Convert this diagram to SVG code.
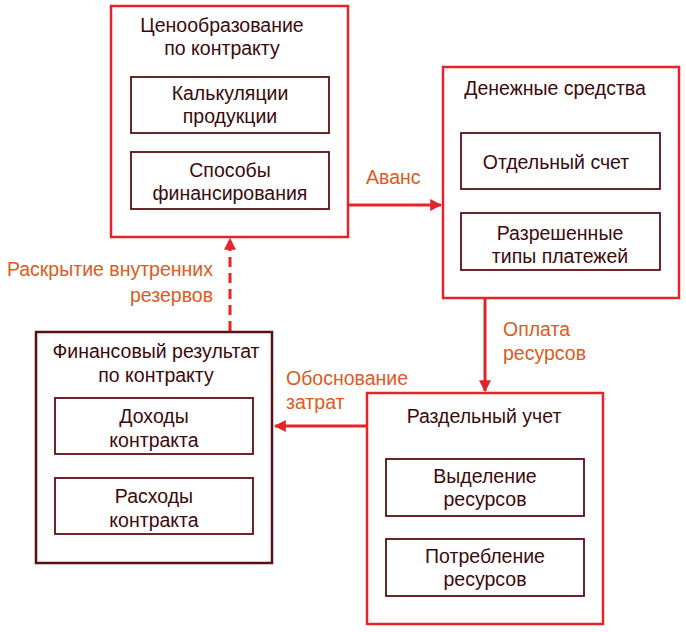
<svg xmlns="http://www.w3.org/2000/svg" width="686" height="632" viewBox="0 0 686 632">
<style>
.outer{fill:#fff;stroke:#e3242b;stroke-width:2.5}
.outer2{fill:#fff;stroke:#5a0f12;stroke-width:2.5}
.inner{fill:#fff;stroke:#5a0f12;stroke-width:1.8}
.t{font-family:"Liberation Sans",Arial,sans-serif;font-size:19.5px;fill:#3d0a0c;text-anchor:middle}
.lbl{font-family:"Liberation Sans",Arial,sans-serif;font-size:19.5px;fill:#de5a22}
.c{stroke:#e3242b;stroke-width:3;fill:none}
</style>
<defs>
<marker id="ah" viewBox="0 0 10 10" refX="9" refY="5" markerWidth="4" markerHeight="4" orient="auto" markerUnits="strokeWidth">
<path d="M0,0 L10,5 L0,10 Z" fill="#e3242b"/>
</marker>
</defs>
<rect width="686" height="632" fill="#fff"/>
<g id="connectors">
<line class="c" x1="349" y1="205" x2="441" y2="205" marker-end="url(#ah)"/>
<line class="c" x1="485" y1="299" x2="485" y2="391" marker-end="url(#ah)"/>
<line class="c" x1="366" y1="426" x2="275" y2="426" marker-end="url(#ah)"/>
<line class="c" x1="230" y1="331" x2="230" y2="239" stroke-dasharray="10,6" marker-end="url(#ah)"/>
<text class="lbl" x="366" y="184">Аванс</text>
<text class="lbl" x="503" y="336">Оплата</text>
<text class="lbl" x="503" y="360">ресурсов</text>
<text class="lbl" x="286" y="385">Обоснование</text>
<text class="lbl" x="286" y="409">затрат</text>
<text class="lbl" x="213" y="276" text-anchor="end">Раскрытие внутренних</text>
<text class="lbl" x="213" y="302" text-anchor="end">резервов</text>
</g>
<g id="pricing">
<rect class="outer" x="111" y="6" width="237" height="231"/>
<text class="t" x="222" y="32">Ценообразование</text>
<text class="t" x="222" y="55">по контракту</text>
<rect class="inner" x="131" y="77" width="198" height="56"/>
<text class="t" x="230" y="100">Калькуляции</text>
<text class="t" x="230" y="123">продукции</text>
<rect class="inner" x="131" y="152" width="198" height="57"/>
<text class="t" x="230" y="177">Способы</text>
<text class="t" x="230" y="200">финансирования</text>
</g>
<g id="money">
<rect class="outer" x="443" y="67" width="236" height="231"/>
<text class="t" x="555" y="95">Денежные средства</text>
<rect class="inner" x="461" y="133" width="199" height="56"/>
<text class="t" x="556" y="169">Отдельный счет</text>
<rect class="inner" x="461" y="213" width="199" height="57"/>
<text class="t" x="560" y="240">Разрешенные</text>
<text class="t" x="560" y="263">типы платежей</text>
</g>
<g id="accounting">
<rect class="outer" x="367" y="393" width="236" height="231"/>
<text class="t" x="484" y="423">Раздельный учет</text>
<rect class="inner" x="386" y="459" width="198" height="57"/>
<text class="t" x="485" y="483">Выделение</text>
<text class="t" x="485" y="506">ресурсов</text>
<rect class="inner" x="386" y="539" width="198" height="57"/>
<text class="t" x="485" y="563">Потребление</text>
<text class="t" x="485" y="586">ресурсов</text>
</g>
<g id="result">
<rect class="outer2" x="36" y="332" width="236" height="231"/>
<text class="t" x="156" y="358">Финансовый результат</text>
<text class="t" x="156" y="382">по контракту</text>
<rect class="inner" x="55" y="398" width="198" height="56"/>
<text class="t" x="154" y="423">Доходы</text>
<text class="t" x="154" y="447">контракта</text>
<rect class="inner" x="55" y="478" width="198" height="56"/>
<text class="t" x="154" y="503">Расходы</text>
<text class="t" x="154" y="527">контракта</text>
</g>
</svg>
